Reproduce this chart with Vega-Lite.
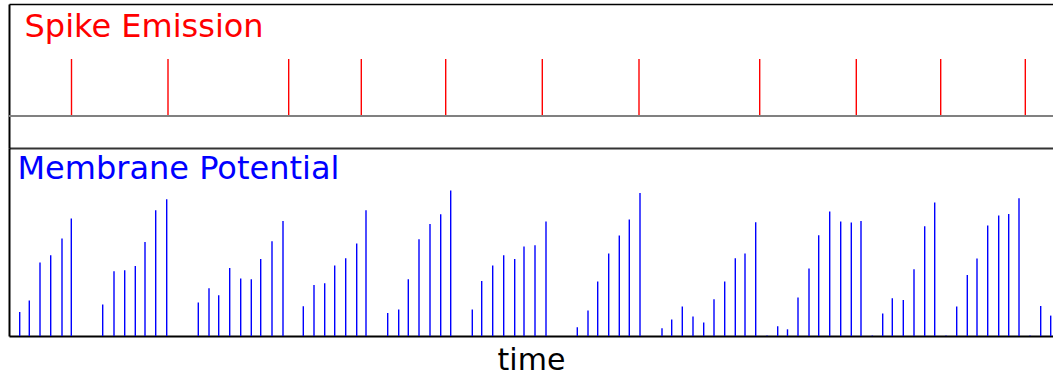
{
  "$schema": "https://vega.github.io/schema/vega-lite/v6.json",
  "padding": {"left": 8, "top": 4, "right": 0, "bottom": 0},
  "background": "white",
  "spacing": 0,
  "config": {
    "view": {"stroke": null},
    "axis": {"grid": false, "ticks": false, "labels": false, "title": null, "domainColor": "black", "domainWidth": 2}
  },
  "datasets": {
    "spikes": [
      {"time": 62.5, "spike": 1}, {"time": 159, "spike": 1}, {"time": 279.7, "spike": 1}, {"time": 352.3, "spike": 1},
      {"time": 436.7, "spike": 1}, {"time": 533.3, "spike": 1}, {"time": 630, "spike": 1}, {"time": 750.7, "spike": 1},
      {"time": 847.3, "spike": 1}, {"time": 931.7, "spike": 1}, {"time": 1016.3, "spike": 1}
    ],
    "potential": [
      {"time": 10.7, "v": 24}, {"time": 20.3, "v": 35.4}, {"time": 31, "v": 73.4}, {"time": 41.7, "v": 80.7},
      {"time": 53, "v": 97.4}, {"time": 62.3, "v": 117.4}, {"time": 93.7, "v": 31.4}, {"time": 105, "v": 64.7},
      {"time": 115.7, "v": 65.7}, {"time": 126.3, "v": 70}, {"time": 136, "v": 94}, {"time": 146.7, "v": 125.7},
      {"time": 157.7, "v": 136.7}, {"time": 189.3, "v": 33.4}, {"time": 200, "v": 47.7}, {"time": 209.7, "v": 40.7},
      {"time": 220.7, "v": 68}, {"time": 231.7, "v": 57.4}, {"time": 242.3, "v": 56.7}, {"time": 251.7, "v": 77},
      {"time": 263, "v": 94.7}, {"time": 274, "v": 115}, {"time": 294.3, "v": 29.7}, {"time": 305, "v": 51},
      {"time": 315.7, "v": 52.7}, {"time": 325.7, "v": 70.4}, {"time": 336.7, "v": 77.7}, {"time": 347.7, "v": 92.4},
      {"time": 357, "v": 125.7}, {"time": 378.7, "v": 23}, {"time": 389.7, "v": 26.4}, {"time": 399.3, "v": 56.7},
      {"time": 410, "v": 96.7}, {"time": 421, "v": 112}, {"time": 431.7, "v": 121.7}, {"time": 441.7, "v": 145.4},
      {"time": 463.3, "v": 26.4}, {"time": 472.7, "v": 55}, {"time": 483.7, "v": 70.4}, {"time": 494.7, "v": 80.7},
      {"time": 505.7, "v": 77}, {"time": 515, "v": 89.4}, {"time": 526, "v": 90.7}, {"time": 537, "v": 114.4},
      {"time": 568.3, "v": 8.7}, {"time": 579, "v": 25.4}, {"time": 588.7, "v": 54.4}, {"time": 599.7, "v": 82.4},
      {"time": 610.3, "v": 100.4}, {"time": 620.3, "v": 116.4}, {"time": 631, "v": 143}, {"time": 653, "v": 7.7},
      {"time": 662.7, "v": 16.4}, {"time": 673.3, "v": 29.4}, {"time": 684, "v": 19.4}, {"time": 694.7, "v": 13.4},
      {"time": 705, "v": 36.7}, {"time": 715.7, "v": 54.4}, {"time": 726.3, "v": 77.7}, {"time": 736, "v": 82.4},
      {"time": 746.7, "v": 113.7}, {"time": 758, "v": 0.6}, {"time": 768.7, "v": 9.7}, {"time": 778.5, "v": 6.7},
      {"time": 789, "v": 38.4}, {"time": 800, "v": 67.4}, {"time": 809.7, "v": 100.7}, {"time": 820.7, "v": 124.4},
      {"time": 831.7, "v": 114.4}, {"time": 842.3, "v": 113.4}, {"time": 852, "v": 115}, {"time": 863.3, "v": 0.6},
      {"time": 873.7, "v": 22.4}, {"time": 883.3, "v": 37.7}, {"time": 894.3, "v": 36}, {"time": 905, "v": 66.7},
      {"time": 915.7, "v": 109.7}, {"time": 925.7, "v": 133.4}, {"time": 937, "v": 0.6}, {"time": 947.7, "v": 29.4},
      {"time": 958.3, "v": 61}, {"time": 968, "v": 77.4}, {"time": 978.7, "v": 110.4}, {"time": 989.7, "v": 120.4},
      {"time": 999.7, "v": 122}, {"time": 1010, "v": 137.7}, {"time": 1021, "v": 0.6}, {"time": 1031.7, "v": 30},
      {"time": 1041.7, "v": 20.4}
    ]
  },
  "vconcat": [
    {
      "width": 1044,
      "height": 144,
      "data": {"name": "spikes"},
      "resolve": {"axis": {"x": "independent", "y": "independent"}},
      "layer": [
        {
          "mark": {"type": "rule", "color": "#ff0000", "strokeWidth": 1.4},
          "encoding": {
            "x": {"field": "time", "type": "quantitative", "scale": {"domain": [0, 1044], "nice": false, "zero": false}, "axis": {"orient": "top", "domainColor": "black", "domainWidth": 1.5}},
            "y": {"field": "spike", "type": "quantitative", "scale": {"domain": [-0.5614, 1.9649], "nice": false, "zero": false},
                  "axis": {"orient": "left", "title": "Spike Emission", "titleColor": "#ff0000", "titleFont": "DejaVu Sans", "titleFontSize": 32, "titleFontWeight": "normal", "titleAngle": 0, "titleX": 15, "titleY": 32, "titleAlign": "left", "titleBaseline": "alphabetic", "titleAnchor": null}},
            "y2": {"datum": 0}
          }
        },
        {
          "mark": {"type": "rule", "color": "#808080", "strokeWidth": 1.5},
          "encoding": {
            "x": {"datum": 0, "type": "quantitative", "axis": {"orient": "bottom", "domainColor": "#333333", "domainWidth": 2}},
            "x2": {"datum": 1044},
            "y": {"datum": 0, "type": "quantitative", "axis": null}
          }
        }
      ]
    },
    {
      "width": 1044,
      "height": 188,
      "data": {"name": "potential"},
      "mark": {"type": "rule", "color": "#0000ff", "strokeWidth": 1.4},
      "encoding": {
        "x": {"field": "time", "type": "quantitative", "scale": {"domain": [0, 1044], "nice": false, "zero": false},
              "axis": {"orient": "bottom", "title": "time", "titleFont": "DejaVu Sans", "titleFontSize": 30, "titleFontWeight": "normal", "titleColor": "black", "titlePadding": 9}},
        "y": {"field": "v", "type": "quantitative", "scale": {"domain": [0, 188], "nice": false, "zero": false},
              "axis": {"orient": "left", "title": "Membrane Potential", "titleColor": "#0000ff", "titleFont": "DejaVu Sans", "titleFontSize": 32, "titleFontWeight": "normal", "titleAngle": 0, "titleX": 8, "titleY": 30, "titleAlign": "left", "titleBaseline": "alphabetic", "titleAnchor": null}},
        "y2": {"datum": 0}
      }
    }
  ]
}
